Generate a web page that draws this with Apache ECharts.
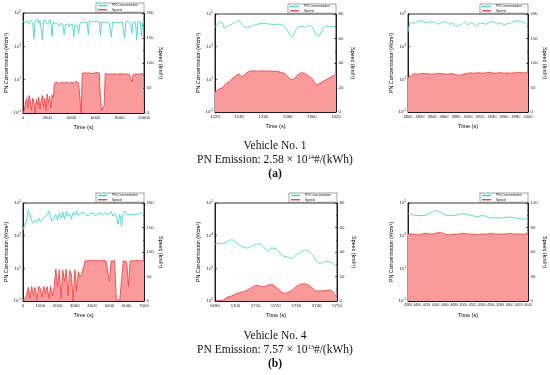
<!DOCTYPE html>
<html><head><meta charset="utf-8">
<script src="https://cdn.jsdelivr.net/npm/echarts@6/dist/echarts.min.js"></script>
<style>html,body{margin:0;padding:0;background:#fff}#c{width:550px;height:375px}</style>
</head><body><div id="c"></div>
<script>
// ---- sampling grids (start, step, count) ----
function samples(start, step, n){ var a=[]; for(var i=0;i<n;i++) a.push(start+i*step); return a; }

// ---- Vehicle 1, full trip ----
const a1Time = samples(0, 100, 101);
const a1PN = [3.2e4,4.0e4,2.5e4,3.5e4,4.5e4,2.2e4,3.8e4,3.0e4,2.6e4,3.0e3,
 3.5e4,2.8e4,4.2e4,2.4e4,3.6e4,1.2e4,2.5e3,3.0e4,4.0e4,2.7e4,
 3.3e4,2.1e4,3.9e4,2.9e4,4.0e3,3.1e4,2.2e4,1.8e4,2.4e4,2.0e4,
 1.6e4,2.3e4,1.9e4,2.1e4,5.0e3,2.0e4,1.7e4,2.2e4,1.5e4,2.0e4,
 1.8e4,2.1e4,4.0e3,1.9e4,2.2e4,1.7e4,6.0e3,2.4e4,3.0e4,2.8e4,
 3.2e4,2.6e4,3.0e4,2.9e4,5.0e3,3.1e4,2.7e4,3.3e4,2.9e4,3.0e4,
 2.5e4,3.2e4,2.8e4,3.0e4,4.5e3,2.9e4,3.1e4,2.6e4,3.0e4,2.8e4,
 3.3e4,2.7e4,3.0e4,3.5e3,2.9e4,3.2e4,2.6e4,3.0e4,2.8e4,3.1e4,
 2.5e4,2.9e4,3.2e4,2.7e4,3.0e3,3.0e4,2.6e4,3.1e4,2.8e4,2.4e4,
 6.0e3,2.9e4,3.2e4,2.7e4,2.5e3,3.0e4,2.6e4,2.8e4,4.0e3,2.9e4,2.6e4];
const a1Speed = [0,5,20,30,10,35,25,5,30,20,0,28,15,32,8,25,35,12,30,5,38,20,33,10,36,30,
 60,61,62,60,59,61,62,63,60,61,62,60,59,61,62,61,60,62,63,61,60,62,
 0,
 80,81,80,79,80,81,80,80,79,81,80,80,81,79,80,
 30,5,10,15,
 79,78,78,79,78,77,78,79,78,78,77,78,79,78,78,77,78,79,78,78,77,78,62,77,78,78,79,78,77,78,78,79,78];

// ---- Vehicle 1, 1220-1320 s ----
const a2Time = samples(1220, 2, 51);
const a2PN = [1.7e4,2.1e4,3.2e4,2.9e4,1.4e4,1.7e4,2.0e4,2.4e4,2.9e4,3.5e4,
 3.9e4,2.7e4,1.7e4,1.5e4,1.6e4,1.7e4,2.0e4,2.3e4,2.4e4,2.6e4,
 2.7e4,2.6e4,2.4e4,2.4e4,2.3e4,2.3e4,2.4e4,2.3e4,2.1e4,1.5e4,
 9.5e3,5.1e3,3.7e3,8.2e3,1.4e4,1.7e4,1.7e4,1.6e4,1.7e4,2.0e4,
 1.7e4,9.5e3,4.9e3,4.5e3,8.2e3,1.5e4,1.8e4,1.7e4,1.7e4,1.6e4,1.5e4];
const a2Speed = [16.4,18,19,19.7,22,24,25,27,28.7,30,31,29,30,32,33,33.6,
 33.6,33.5,33.4,33.5,33.6,33.4,33.3,33.5,33.3,33.2,
 33,32.5,32,31,29,27,26.5,27.5,30,31.5,32,31.5,30.5,29,27.5,24.5,22,23,24.3,25.4,26.5,27.5,28.7,29.7,30.6];

// ---- Vehicle 1, 4800-5000 s ----
const a3Time = samples(4800, 5, 41);
const a3PN = [8.0e3,3.4e4,2.7e4,3.2e4,3.9e4,3.5e4,2.9e4,3.1e4,3.4e4,3.0e4,
 2.4e4,2.8e4,3.4e4,3.0e4,2.4e4,2.6e4,1.8e4,2.0e4,2.4e4,3.4e4,
 2.1e4,2.9e4,2.4e4,1.8e4,2.9e4,2.6e4,2.4e4,3.0e4,3.4e4,2.9e4,
 2.4e4,2.8e4,2.1e4,2.5e4,2.7e4,3.2e4,3.9e4,3.6e4,3.4e4,2.8e4,2.1e4];
const a3Speed = [70,74,78,77,78,79,78,78,77,78,79,78,78,77,78,78,76,75,76,78,
 79,80,79,80,80,79,80,81,80,79,80,80,79,80,79,80,80,81,80,80,80];

// ---- Vehicle 4, full trip ----
const b1Time = samples(0, 100, 71);
const b1PN = [2.3e3,3.0e3,8.0e3,3.5e4,2.0e4,8.0e3,6.0e3,9.0e3,6.5e3,1.2e4,
 7.0e3,1.0e4,8.0e3,1.5e4,2.0e4,3.2e4,1.2e4,8.0e3,1.0e4,2.0e4,
 9.0e3,2.5e4,1.2e4,2.8e4,1.0e4,3.0e4,1.5e4,2.2e4,1.1e4,2.6e4,
 1.8e4,3.0e4,1.6e4,2.4e4,2.0e4,2.6e4,1.9e4,2.5e4,1.7e4,2.3e4,
 1.8e4,2.4e4,1.6e4,2.2e4,1.9e4,2.5e4,1.7e4,2.1e4,2.6e4,1.8e4,
 2.3e4,3.0e4,1.6e4,2.2e4,1.4e4,5.0e3,2.0e4,4.0e3,2.4e4,3.2e4,
 2.0e4,2.6e4,1.9e4,2.4e4,2.1e4,2.7e4,2.0e4,2.3e4,2.5e4,2.0e4,2.2e4];
const b1Speed = [0,2,10,28,5,30,12,28,3,30,25,8,30,15,29,5,30,10,28,
 65,30,64,5,63,40,65,10,62,55,0,64,20,60,50,
 55,57,
 82,83,82,82,83,82,82,83,82,82,83,82,82,80,
 40,
 82,83,82,
 3,0,2,5,
 82,83,80,
 30,
 82,83,82,82,83,82,82,83,82];

// ---- Vehicle 4, 5690-5750 s ----
const b2Time = samples(5690, 2, 31);
const b2PN = [5.6e3,5.8e3,5.9e3,6.6e3,7.5e3,6.6e3,5.2e3,4.4e3,4.2e3,4.7e3,
 5.5e3,5.6e3,4.5e3,3.4e3,4.2e3,3.9e3,2.9e3,2.3e3,2.2e3,2.0e3,
 2.6e3,3.0e3,3.6e3,3.3e3,2.6e3,1.6e3,1.4e3,1.6e3,1.6e3,1.4e3,1.1e3];
const b2Speed = [0,0,0.8,3,4,5.7,6.8,7.6,9,11,12.6,12.3,11.5,13,13.4,11.2,8.5,6.3,7.1,9,
 11.7,13.6,14,13.1,10.4,8.2,8.2,8.5,9,7.6,2.2];

// ---- Vehicle 4, 4380-4640 s ----
const b3Time = samples(4380, 10, 27);
const b3PN = [2.2e4,1.9e4,1.7e4,1.7e4,1.8e4,2.7e4,3.4e4,2.7e4,1.9e4,1.7e4,
 1.7e4,2.0e4,2.2e4,1.9e4,1.7e4,1.4e4,1.7e4,1.5e4,1.2e4,1.3e4,
 1.2e4,1.3e4,1.4e4,1.26e4,1.15e4,1.05e4,1.05e4];
const b3Speed = [82,82,81,82,83,82,83,84,82,81,82,82,83,82,82,81,82,82,83,82,82,82,83,82,82,82,82];

const seriesNames = ['PN Concentration','Speed'];
const captionA = ['Vehicle No. 1','2.58','14','(a)'];
const captionB = ['Vehicle No. 4','7.57','13','(b)'];

const panels = [
 {g:[23,13,121,100], x:[0,10000,2000], yL:[-1,5,2], yR:[0,200,50], t:a1Time, pn:a1PN, sp:a1Speed, smooth:false, xf:4.3},
 {g:[215,14,121,98], x:[1220,1320,20], yL:[-1,5,2], yR:[0,80,20], t:a2Time, pn:a2PN, sp:a2Speed, smooth:0.3, xf:4.3},
 {g:[408,14,120,98], x:[4800,5000,20], yL:[-1,5,2], yR:[0,200,50], t:a3Time, pn:a3PN, sp:a3Speed, smooth:0.3, xf:4},
 {g:[23,203,121,98], x:[0,7000,1000], yL:[-1,5,2], yR:[0,200,50], t:b1Time, pn:b1PN, sp:b1Speed, smooth:false, xf:4.3},
 {g:[215,203,122,98], x:[5690,5750,10], yL:[2,5,1], yR:[0,80,20], t:b2Time, pn:b2PN, sp:b2Speed, smooth:0.3, xf:4.3},
 {g:[408,203,120,98], x:[4380,4640,20], yL:[-1,5,2], yR:[0,120,30], t:b3Time, pn:b3PN, sp:b3Speed, smooth:0.3, xf:3.4}
];

const FONT = 'Arial, "Liberation Sans", sans-serif';
const CYAN = '#45d6d2';
const RED_LINE = '#f0484a';
const RED_FILL = '#fb9a9a';

const opt = {
 animation:false, backgroundColor:'#fff',
 grid:[], xAxis:[], yAxis:[], series:[], legend:[], graphic:[]
};

panels.forEach(function(p, i){
 opt.grid.push({left:p.g[0], top:p.g[1], width:p.g[2], height:p.g[3], show:true, borderColor:'#000', borderWidth:0.8, backgroundColor:'transparent', containLabel:false});
 const axLine = {show:true, onZero:false, lineStyle:{color:'#000', width:0.8}};
 opt.xAxis.push({type:'value', gridIndex:i, min:p.x[0], max:p.x[1], interval:p.x[2],
   name:'Time (s)', nameLocation:'middle', nameGap:11, nameTextStyle:{fontSize:5.5, color:'#000', fontFamily:FONT},
   axisLine:axLine, axisTick:{inside:true, length:2, lineStyle:{color:'#000', width:0.6}},
   minorTick:{show:true, splitNumber:2, length:1, lineStyle:{color:'#000', width:0.5}},
   axisLabel:{fontSize:p.xf, color:'#222', margin:2.5, fontFamily:FONT, hideOverlap:false, formatter:function(v){return String(v);}}, splitLine:{show:false}});
 const exps = p.yL;
 opt.yAxis.push({type:'value', gridIndex:i, min:exps[0], max:exps[1], interval:exps[2], position:'left',
   name:'PN Concentration (#/cm³)', nameLocation:'middle', nameGap:14, nameTextStyle:{fontSize:5.3, color:'#000', fontFamily:FONT},
   axisLine:axLine, axisTick:{inside:true, length:2, lineStyle:{color:'#000', width:0.6}},
   minorTick:{show:true, splitNumber:exps[2]===2?2:1, length:1, lineStyle:{color:'#000', width:0.5}},
   axisLabel:{margin:2, color:'#222', fontFamily:FONT,
     formatter:function(v){ return '{b|10}{s|' + (v<0?'-'+(-v):v) + '}'; },
     rich:{b:{fontSize:4.3, color:'#222', fontFamily:FONT}, s:{fontSize:3, color:'#222', padding:[0,0,3,0], fontFamily:FONT}}},
   splitLine:{show:false}});
 opt.yAxis.push({type:'value', gridIndex:i, min:p.yR[0], max:p.yR[1], interval:p.yR[2], position:'right',
   name:'Speed (km/h)', nameLocation:'middle', nameGap:14, nameRotate:-90, nameTextStyle:{fontSize:5.3, color:'#000', fontFamily:FONT},
   axisLine:axLine, axisTick:{inside:true, length:2, lineStyle:{color:'#000', width:0.6}},
   minorTick:{show:true, splitNumber:2, length:1, lineStyle:{color:'#000', width:0.5}},
   axisLabel:{fontSize:4.3, color:'#222', margin:2.5, fontFamily:FONT}, splitLine:{show:false}});
 opt.series.push({type:'line', name:seriesNames[1], xAxisIndex:i, yAxisIndex:2*i+1,
   data:p.t.map(function(t,k){return [t, p.sp[k]];}), showSymbol:false, symbol:'none', smooth:p.smooth,
   lineStyle:{color:RED_LINE, width:0.9}, itemStyle:{color:RED_LINE}, areaStyle:{color:RED_FILL, opacity:1}, z:2});
 opt.series.push({type:'line', name:seriesNames[0], xAxisIndex:i, yAxisIndex:2*i,
   data:p.t.map(function(t,k){return [t, Math.log10(p.pn[k])];}), showSymbol:false, symbol:'none', smooth:p.smooth,
   lineStyle:{color:CYAN, width:0.9}, itemStyle:{color:CYAN}, z:3});
 opt.legend.push({data:[{name:seriesNames[0], icon:'rect'},{name:seriesNames[1], icon:'rect'}], orient:'vertical',
   right:550-(p.g[0]+p.g[2]), top:p.g[1]-10, itemWidth:9, itemHeight:1.5, itemGap:1.2,
   padding:[1,6,1,2], borderColor:'#444', borderWidth:0.5, backgroundColor:'#fff',
   textStyle:{fontSize:3.3, color:'#222', fontFamily:FONT}, selectedMode:false});
});

function caption(c, y){
 const serif = '"Liberation Serif", "DejaVu Serif", serif';
 opt.graphic.push({type:'text', left:'center', top:y, style:{text:c[0], font:'11.5px '+serif, fill:'#111'}});
 opt.graphic.push({type:'text', left:'center', top:y+14, style:{text:'PN Emission: '+c[1]+' × 10{s|'+c[2]+'}#/(kWh)',
   font:'11.5px '+serif, fill:'#111', rich:{s:{fontSize:6.5, fontFamily:serif, fill:'#111', padding:[0,0,5,0]}}}});
 opt.graphic.push({type:'text', left:'center', top:y+28, style:{text:c[3], font:'bold 11.5px '+serif, fill:'#111'}});
}
caption(captionA, 140);
caption(captionB, 330);

const chart = echarts.init(document.getElementById('c'), null, {renderer:'canvas'});
chart.setOption(opt);
</script></body></html>
